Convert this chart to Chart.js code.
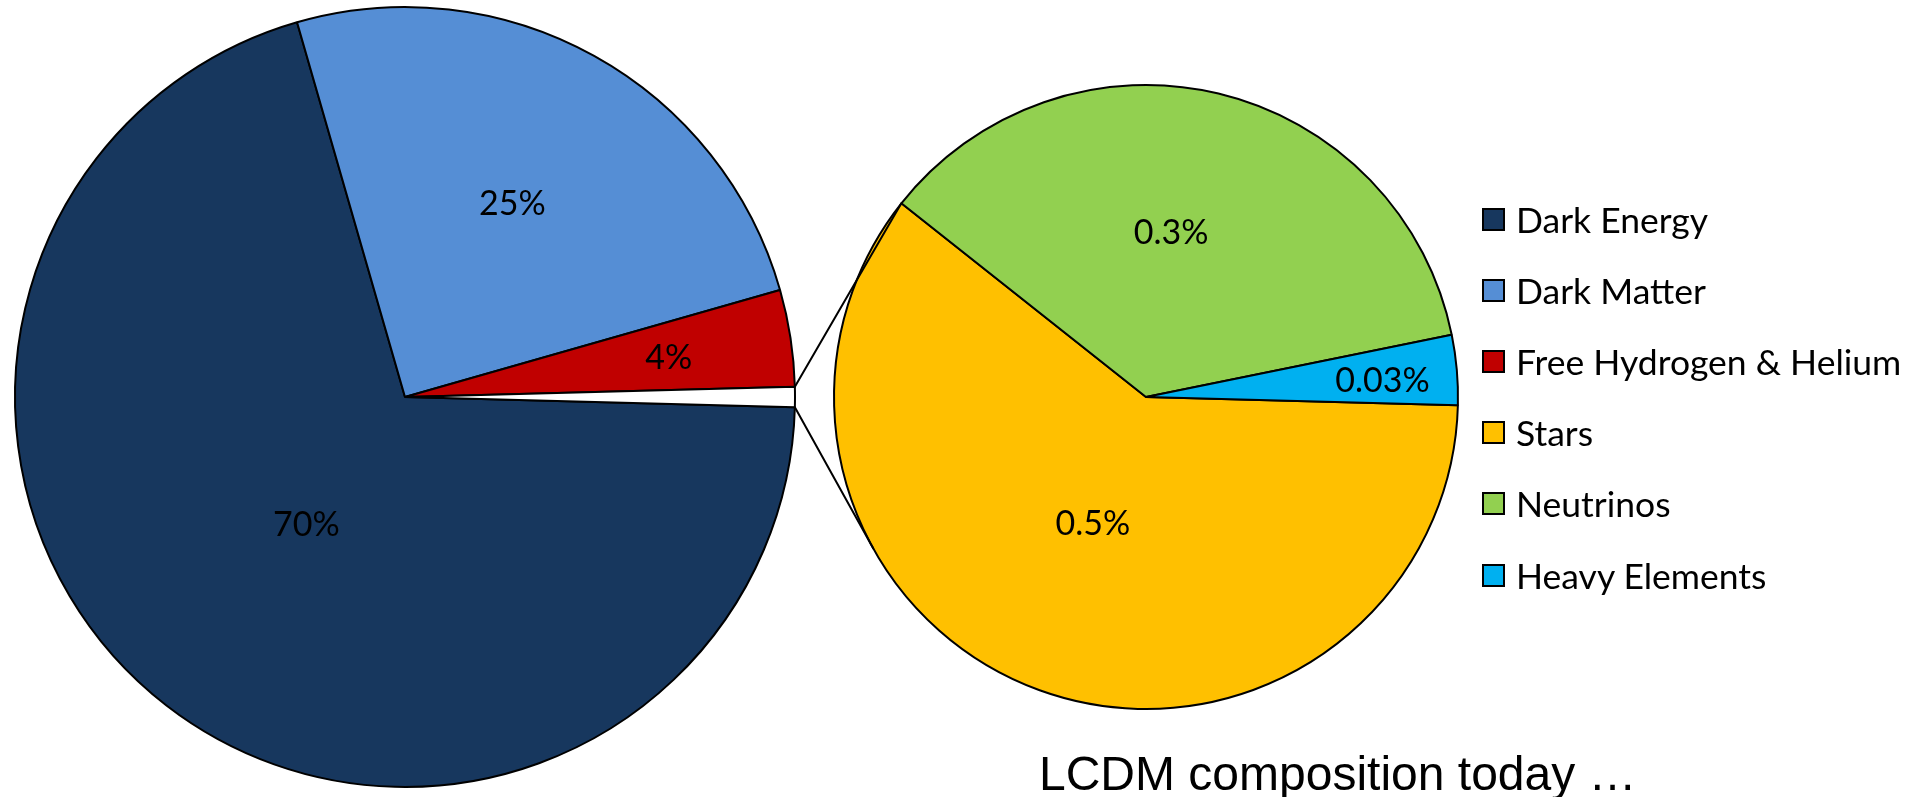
<!DOCTYPE html>
<html>
<head>
<meta charset="utf-8">
<script src="https://cdn.jsdelivr.net/npm/chart.js@4.4.1/dist/chart.umd.min.js"></script>
<style>
  html, body { margin: 0; padding: 0; background: #fff; width: 1915px; height: 797px; overflow: hidden; }
  body { position: relative; }
  #mainPie { position: absolute; left: 0; top: 0; }
  #detailPie { position: absolute; left: 826px; top: 77px; }
  #links { position: absolute; left: 0; top: 0; pointer-events: none; }
  #legend { position: absolute; left: 1482px; top: 184px; font-family: Lato, "Open Sans", sans-serif; font-size: 35.5px; color: #000; }
  #legend .row { display: flex; align-items: center; height: 71.1px; white-space: nowrap; }
  #legend .sw { width: 23px; height: 23px; box-sizing: border-box; border: 2px solid #000; margin-right: 11px; flex: none; }
  #title { position: absolute; left: 1039px; top: 750px; font-family: "Liberation Sans", Arial, sans-serif; font-size: 48px; line-height: 1; color: #000; white-space: nowrap; }
</style>
</head>
<body>
<canvas id="mainPie" width="810" height="794"></canvas>
<canvas id="detailPie" width="640" height="640"></canvas>
<canvas id="links" width="1915" height="797"></canvas>
<div id="legend"></div>
<div id="title">LCDM composition today …</div>
<script>
// Composition of the universe (percent of total energy density)
const mainLabels = ['Dark Energy', 'Dark Matter', 'Free Hydrogen & Helium'];
const mainValues = [70, 25, 4];
const detailLabels = ['Stars', 'Neutrinos', 'Heavy Elements'];
const detailValues = [0.5, 0.3, 0.03];

const mainColors = ['#17375E', '#558ED5', '#C00000'];
const detailColors = ['#FFC000', '#92D050', '#00B0F0'];

// the small components are gathered into one slice of the big pie and split out in the second pie
const restValue = detailValues.reduce((s, v) => s + v, 0);

const fmt = v => v + '%';

// percentage labels placed along each slice's bisector
const sliceLabels = {
  id: 'sliceLabels',
  afterDatasetsDraw(chart, args, opts) {
    const ctx = chart.ctx;
    const arcs = chart.getDatasetMeta(0).data;
    ctx.save();
    ctx.font = opts.font;
    ctx.fillStyle = '#000';
    ctx.textAlign = 'center';
    ctx.textBaseline = 'alphabetic';
    opts.texts.forEach((txt, i) => {
      if (!txt) return;
      const a = arcs[i].getProps(['x', 'y', 'startAngle', 'endAngle', 'outerRadius'], true);
      const ang = (a.startAngle + a.endAngle) / 2 + (opts.shift[i] || 0) * Math.PI / 180;
      const r = a.outerRadius * opts.radius[i];
      const cx = a.x + Math.cos(ang) * r;
      const cy = a.y + Math.sin(ang) * r;
      ctx.fillText(txt, cx, cy + opts.capHalf);
    });
    ctx.restore();
  }
};

const commonOptions = {
  responsive: false,
  maintainAspectRatio: false,
  animation: false,
  events: [],
  layout: { padding: 0 },
  rotation: 91.5,
  plugins: { legend: { display: false }, tooltip: { enabled: false } }
};

const mainChart = new Chart(document.getElementById('mainPie'), {
  type: 'pie',
  data: {
    labels: mainLabels.concat(['Other']),
    datasets: [{
      data: mainValues.concat([restValue]),
      backgroundColor: mainColors.concat(['#FFFFFF']),
      borderColor: '#000',
      borderWidth: 2
    }]
  },
  options: Object.assign({}, commonOptions, {
    radius: 390,
    plugins: Object.assign({}, commonOptions.plugins, {
      sliceLabels: {
        texts: mainValues.map(fmt).concat(['']),
        radius: [0.413, 0.568, 0.684, 0],
        shift: [0, 0, 0, 0],
        font: '34px Lato',
        capHalf: 12
      }
    })
  }),
  plugins: [sliceLabels]
});

const detailChart = new Chart(document.getElementById('detailPie'), {
  type: 'pie',
  data: {
    labels: detailLabels,
    datasets: [{
      data: detailValues,
      backgroundColor: detailColors,
      borderColor: '#000',
      borderWidth: 2
    }]
  },
  options: Object.assign({}, commonOptions, {
    radius: 312,
    plugins: Object.assign({}, commonOptions.plugins, {
      sliceLabels: {
        texts: detailValues.map(fmt),
        radius: [0.437, 0.535, 0.76],
        shift: [3, -4.8, 1],
        font: '34px Lato',
        capHalf: 12
      }
    })
  }),
  plugins: [sliceLabels]
});

// connector lines from the gathered slice to the second pie
function drawLinks() {
  const mainEl = document.getElementById('mainPie');
  const detEl = document.getElementById('detailPie');
  const ox1 = mainEl.offsetLeft, oy1 = mainEl.offsetTop;
  const ox2 = detEl.offsetLeft, oy2 = detEl.offsetTop;
  const rest = mainChart.getDatasetMeta(0).data[3].getProps(['x', 'y', 'startAngle', 'endAngle', 'outerRadius'], true);
  const stars = detailChart.getDatasetMeta(0).data[0].getProps(['x', 'y', 'startAngle', 'endAngle', 'outerRadius'], true);

  const p1 = { x: ox1 + rest.x + Math.cos(rest.startAngle) * rest.outerRadius, y: oy1 + rest.y + Math.sin(rest.startAngle) * rest.outerRadius };
  const p2 = { x: ox1 + rest.x + Math.cos(rest.endAngle) * rest.outerRadius, y: oy1 + rest.y + Math.sin(rest.endAngle) * rest.outerRadius };

  const bx = ox2 + stars.x, by = oy2 + stars.y, br = stars.outerRadius;
  const q1 = { x: bx + Math.cos(stars.endAngle) * br, y: by + Math.sin(stars.endAngle) * br };

  // lower tangent from p2 to the second pie
  const dx = p2.x - bx, dy = p2.y - by;
  const d = Math.hypot(dx, dy);
  const phi = Math.atan2(dy, dx);
  const alpha = Math.acos(br / d);
  const tA = phi - alpha, tB = phi + alpha;
  const cA = { x: bx + Math.cos(tA) * br, y: by + Math.sin(tA) * br };
  const cB = { x: bx + Math.cos(tB) * br, y: by + Math.sin(tB) * br };
  const q2 = cA.y > cB.y ? cA : cB;

  const ctx = document.getElementById('links').getContext('2d');
  ctx.strokeStyle = '#000';
  ctx.lineWidth = 2;
  ctx.lineCap = 'round';
  ctx.beginPath();
  ctx.moveTo(p1.x, p1.y); ctx.lineTo(q1.x, q1.y);
  ctx.moveTo(p2.x, p2.y); ctx.lineTo(q2.x, q2.y);
  ctx.stroke();
}
drawLinks();

// legend for both pies
const legend = document.getElementById('legend');
mainLabels.concat(detailLabels).forEach((name, i) => {
  const row = document.createElement('div');
  row.className = 'row';
  const sw = document.createElement('span');
  sw.className = 'sw';
  sw.style.background = mainColors.concat(detailColors)[i];
  const txt = document.createElement('span');
  txt.textContent = name;
  row.appendChild(sw);
  row.appendChild(txt);
  legend.appendChild(row);
});
</script>
</body>
</html>
